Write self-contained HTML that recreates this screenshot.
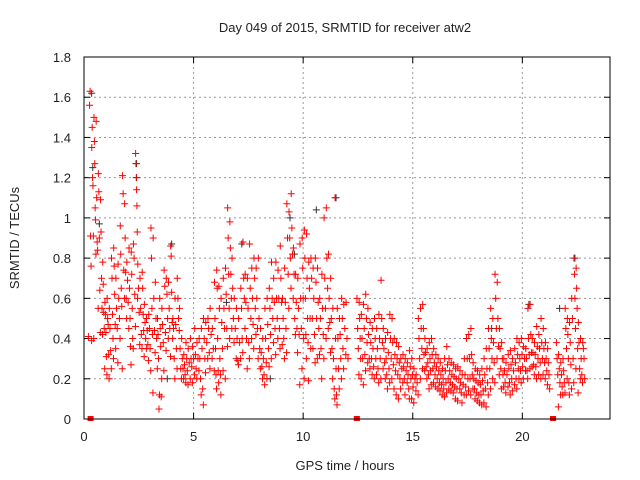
<!DOCTYPE html>
<html><head><meta charset="utf-8"><style>
body{margin:0;background:#fff}
svg{display:block;font-family:"Liberation Sans",sans-serif}
</style></head><body>
<svg id="chart" width="640" height="480">
<rect width="640" height="480" fill="#fff"/>
<text x="345" y="32" font-size="13" text-anchor="middle" fill="#222">Day 049 of 2015, SRMTID for receiver atw2</text>
<text x="0" y="0" font-size="13" text-anchor="middle" fill="#222" transform="translate(19,238) rotate(-90)">SRMTID / TECUs</text>
<text x="345" y="470" font-size="13" text-anchor="middle" fill="#222">GPS time / hours</text>
<g id="grid"></g>
<g id="ticks"></g>
<g id="black"></g>
<g id="red"></g>
<rect x="84" y="57" width="526" height="362" fill="none" stroke="#000" stroke-width="1"/>
</svg>
<script>
const xTicks=[0,5,10,15,20];
const yTicks=[0,0.2,0.4,0.6,0.8,1,1.2,1.4,1.6,1.8];
const yTickLabels=["0","0.2","0.4","0.6","0.8","1","1.2","1.4","1.6","1.8"];
const redHours=[0.2,0.3,0.4,0.5,0.6,0.7,0.8,0.9,1.0,1.1,1.2,1.3,1.4,1.5,1.6,1.7,1.8,1.9,2.0,2.1,2.2,2.3,2.4,2.5,2.6,2.7,2.8,2.9,3.0,3.1,3.2,3.3,3.4,3.5,3.6,3.7,3.8,3.9,4.0,4.1,4.2,4.3,4.4,4.5,4.6,4.7,4.8,4.9,5.0,5.1,5.2,5.3,5.4,5.5,5.6,5.7,5.8,5.9,6.0,6.1,6.2,6.3,6.4,6.5,6.6,6.7,6.8,6.9,7.0,7.1,7.2,7.3,7.4,7.5,7.6,7.7,7.8,7.9,8.0,8.1,8.2,8.3,8.4,8.5,8.6,8.7,8.8,8.9,9.0,9.1,9.2,9.3,9.4,9.5,9.6,9.7,9.8,9.9,10.0,10.1,10.2,10.3,10.4,10.5,10.6,10.7,10.8,10.9,11.0,11.1,11.2,11.3,11.4,11.5,11.6,11.7,11.8,11.9,12.0,12.5,12.6,12.7,12.8,12.9,13.0,13.1,13.2,13.3,13.4,13.5,13.6,13.7,13.8,13.9,14.0,14.1,14.2,14.3,14.4,14.5,14.6,14.7,14.8,14.9,15.0,15.1,15.2,15.3,15.4,15.5,15.6,15.7,15.8,15.9,16.0,16.1,16.2,16.3,16.4,16.5,16.6,16.7,16.8,16.9,17.0,17.1,17.2,17.3,17.4,17.5,17.6,17.7,17.8,17.9,18.0,18.1,18.2,18.3,18.4,18.5,18.6,18.7,18.8,18.9,19.0,19.1,19.2,19.3,19.4,19.5,19.6,19.7,19.8,19.9,20.0,20.1,20.2,20.3,20.4,20.5,20.6,20.7,20.8,20.9,21.0,21.1,21.2,21.6,21.7,21.8,21.9,22.0,22.1,22.2,22.3,22.4,22.5,22.6,22.7,22.8];
const redValues=[[.41],[1.56,1.63,.91,.76,.39],[1.35,1.45,1.2,1.16,.91,.4],[1.5,1.38,1.27,1.05,.99,.82],[1.48,1.1,.88,.84,.55],[1.22,1.13,.9,.64,.43],[1.09,.93,.7,.55,.42],[.78,.67,.53,.45,.25],[.58,.52,.43,.31,.22],[.6,.5,.47,.32,.2],[.55,.45,.34,.25],[.8,.7,.52,.4,.3],[.85,.76,.62,.47,.35],[.7,.55,.45,.28],[.77,.6,.5,.4],[.96,.82,.65,.56,.25],[1.21,1.12,.74,.6],[1.07,.9,.73,.6,.5],[.78,.69,.58,.45],[.85,.65,.5,.36,.27],[.83,.72,.55,.4,.35],[.87,.8,.62,.46],[1.32,1.27,1.2,1.14,1.06,.93,.6],[.77,.65,.53,.37],[.7,.55,.42,.35],[.73,.65,.52,.44,.31],[.57,.48,.4,.35],[.5,.44,.37,.29],[.52,.45,.35,.24],[.95,.8,.55,.42,.13],[.9,.6,.44,.33],[.68,.5,.4,.25],[.5,.42,.3,.05,.12],[.6,.45,.36,.11,.2],[.55,.47,.38,.24],[.74,.66,.43,.34],[.7,.62,.5,.4],[.68,.55,.45,.31],[.86,.81,.63,.48,.4],[.5,.45,.3,.2],[.6,.47,.35,.25],[.7,.6,.5,.44],[.55,.35,.25,.2],[.4,.3,.25,.2],[.32,.27,.22,.18],[.38,.3,.24,.17],[.35,.28,.2],[.4,.3,.26,.18],[.36,.3,.22],[.45,.32,.25,.2],[.38,.3,.24],[.4,.3,.2,.12],[.45,.35,.15,.07],[.5,.4,.3,.23],[.48,.38,.3],[.5,.45,.33,.25],[.55,.42,.3],[.45,.35,.24],[.68,.5,.35,.22,.15],[.74,.65,.4,.24,.18],[.66,.55,.3,.22,.12],[.6,.48,.35,.24],[.7,.55,.45,.2],[.75,.62,.45,.36],[1.05,.9,.72,.55,.4],[.98,.85,.72,.6,.45],[.8,.65,.5,.38],[.6,.45,.3],[.55,.4,.29,.27],[.5,.38,.3],[.65,.55,.4,.33],[.88,.7,.6,.45],[.72,.58,.4,.25],[.7,.55,.38,.3],[.87,.65,.5,.4],[.75,.6,.47,.35],[.8,.7,.55,.42],[.75,.6,.45,.3],[.8,.5,.35,.25],[.45,.33,.26,.2],[.4,.3,.22,.17],[.55,.4,.28,.2],[.6,.47,.35,.26],[.65,.55,.42,.3],[.78,.6,.5,.38],[.7,.58,.45,.32],[.78,.6,.5,.4],[.74,.6,.45,.35],[.86,.7,.58,.37],[.6,.5,.4,.3],[.75,.58,.45,.33],[1.07,.9,.72,.55],[1.03,.9,.8,.65],[1.12,.95,.82,.6],[.85,.72,.5,.42],[.72,.58,.45,.33],[.7,.55,.42,.17],[.87,.6,.45,.25],[.9,.75,.6,.4,.2],[.94,.8,.6,.42,.3],[.92,.7,.5,.38,.19],[.78,.65,.5,.35],[.8,.7,.5,.35],[.75,.6,.42,.28],[.8,.68,.5,.3],[.75,.58,.45,.32],[.6,.5,.35,.2],[.72,.55,.42,.3],[1.0,.7,.55,.4],[1.05,.8,.65,.45],[.82,.6,.48,.33],[.7,.5,.35,.2],[.55,.3,.15,.1],[1.1,.4,.25,.12,.07],[.55,.4,.25,.15],[.5,.42,.3,.2],[.6,.5,.35,.25],[.57,.45,.32],[.58,.4,.3],[.6,.45,.35,.22],[.58,.5,.4,.3,.2],[.52,.4,.3,.17],[.57,.45,.32,.24],[.62,.5,.38,.28],[.55,.42,.3,.25],[.48,.38,.3,.22],[.45,.35,.26,.2],[.5,.4,.3,.22],[.45,.35,.25,.18],[.52,.4,.3,.2],[.69,.5,.38,.25],[.45,.35,.28,.2],[.4,.3,.22,.15],[.43,.33,.25,.18],[.52,.4,.3,.2],[.5,.38,.27,.15],[.4,.32,.24,.12],[.38,.3,.22,.1],[.36,.28,.2,.15],[.3,.25,.18],[.32,.26,.2,.12],[.3,.24,.18],[.28,.22,.15,.1],[.34,.26,.2,.1],[.3,.22,.16,.08],[.25,.2,.14],[.22,.18,.12],[.5,.4,.3,.2],[.55,.45,.35,.25],[.57,.45,.32,.24],[.4,.33,.26,.2],[.35,.28,.22,.15],[.38,.3,.24,.17],[.4,.32,.25,.18],[.35,.28,.22,.16],[.32,.26,.2,.15],[.3,.24,.18,.14],[.28,.22,.17,.12],[.25,.2,.15,.11],[.3,.24,.18,.13],[.36,.27,.2,.15],[.3,.24,.18,.14],[.28,.22,.17,.13],[.27,.21,.16,.1],[.25,.2,.15,.09],[.26,.2,.15],[.24,.18,.13,.08],[.22,.17,.12],[.3,.22,.16,.12],[.4,.3,.2,.14],[.42,.3,.2,.12],[.45,.32,.22,.15],[.28,.2,.15,.1],[.25,.19,.13,.09],[.24,.18,.12,.08],[.22,.17,.12,.07],[.25,.19,.14,.08],[.3,.22,.15,.06],[.35,.25,.18,.12],[.45,.35,.25,.15],[.55,.4,.3,.2],[.5,.38,.28,.18],[.72,.6,.45,.3],[.68,.5,.36,.22],[.45,.35,.25,.15],[.38,.3,.22,.16],[.3,.24,.18,.13],[.28,.22,.16],[.32,.25,.18,.12],[.34,.27,.2,.14],[.3,.24,.17],[.35,.28,.2,.15],[.4,.32,.25,.2],[.38,.3,.24,.18],[.4,.32,.26,.2],[.36,.3,.24],[.35,.3,.24,.2],[.55,.4,.32,.25],[.57,.42,.33,.26],[.4,.33,.27,.22],[.38,.32,.26,.2],[.46,.36,.3,.22],[.42,.35,.28,.2],[.5,.38,.3,.22],[.45,.35,.28,.2],[.38,.3,.24,.17],[.35,.28,.22,.15],[.38,.3,.22,.06],[.32,.25,.18,.12],[.28,.22,.16,.12],[.3,.24,.18,.13],[.55,.45,.35,.2],[.5,.42,.3,.18,.12],[.48,.38,.27,.15],[.6,.5,.3,.18],[.8,.72,.6,.45,.25],[.75,.65,.55,.35,.13],[.48,.38,.25,.2],[.4,.3,.22,.18],[.38,.35,.3,.2]];
const blackHours=[0.35,0.4,0.7,2.4,2.4,4.0,6.5,7.2,9.4,11.5,10.6,18.6,20.3,21.7,22.4,3.8,8.5,9.6];
const blackValues=[1.62,1.25,0.97,1.2,1.27,0.87,0.58,0.87,1.0,1.1,1.04,0.45,0.57,0.55,0.8,0.2,0.2,0.82];
const gapHours=[0.3,12.45,21.4];

const NS="http://www.w3.org/2000/svg";
const X0=84,X1=610,Y0=419,Y1=57,XMAX=24,YMAX=1.8;
function sx(t){return X0+(X1-X0)*t/XMAX;}
function sy(v){return Y0-(Y0-Y1)*v/YMAX;}
function mk(tag,attrs,parent){const e=document.createElementNS(NS,tag);for(const k in attrs)e.setAttribute(k,attrs[k]);parent.appendChild(e);return e;}
const grid=document.getElementById('grid'),ticks=document.getElementById('ticks');
xTicks.forEach((t,i)=>{const x=sx(t);
 if(t>0){const l=mk('line',{x1:x,x2:x,y1:Y1,y2:Y0,stroke:'#999','stroke-dasharray':'2,3'},grid);
 
 }
 mk('line',{x1:x,x2:x,y1:Y0,y2:Y0-6,stroke:'#000'},ticks);
 mk('line',{x1:x,x2:x,y1:Y1,y2:Y1+6,stroke:'#000'},ticks);
 const tx=mk('text',{x:x,y:Y0+22,'font-size':13,'text-anchor':'middle',fill:'#222'},ticks);tx.textContent=String(t);
 
 
});
yTicks.forEach((v,i)=>{const y=sy(v);
 if(v>0&&v<YMAX){const l=mk('line',{x1:X0,x2:X1,y1:y,y2:y,stroke:'#999','stroke-dasharray':'2,3'},grid);
 
 }
 mk('line',{x1:X0,x2:X0+6,y1:y,y2:y,stroke:'#000'},ticks);
 mk('line',{x1:X1,x2:X1-6,y1:y,y2:y,stroke:'#000'},ticks);
 const tx=mk('text',{x:X0-13,y:y+5,'font-size':13,'text-anchor':'end',fill:'#222'},ticks);tx.textContent=yTickLabels[i];
 
 
});
function plus(t,v,color,parent){const x=sx(t),y=sy(v);
 const p=mk('path',{d:`M${x-3.5} ${y}H${x+3.5}M${x} ${y-3.5}V${y+3.5}`,stroke:color,'stroke-width':1,fill:'none'},parent);
 return p;}
const blk=document.getElementById('black'),red=document.getElementById('red');
blackHours.forEach((t,i)=>{const p=plus(t,blackValues[i],'#333',blk);
 
 });
// spread samples within each 0.1 h bin
redHours.forEach((t,i)=>{const n=redValues[i].length;redValues[i].forEach((v,j)=>{const dt=n>1?(j/(n-1)-0.5)*0.09:0;const p=plus(t+dt,v,'#f00',red);
 
 });});
gapHours.forEach(t=>{const r=mk('rect',{x:sx(t)-3,y:Y0-3,width:6,height:5,fill:'#f00'},red);
 
 });
</script>
</body></html>
